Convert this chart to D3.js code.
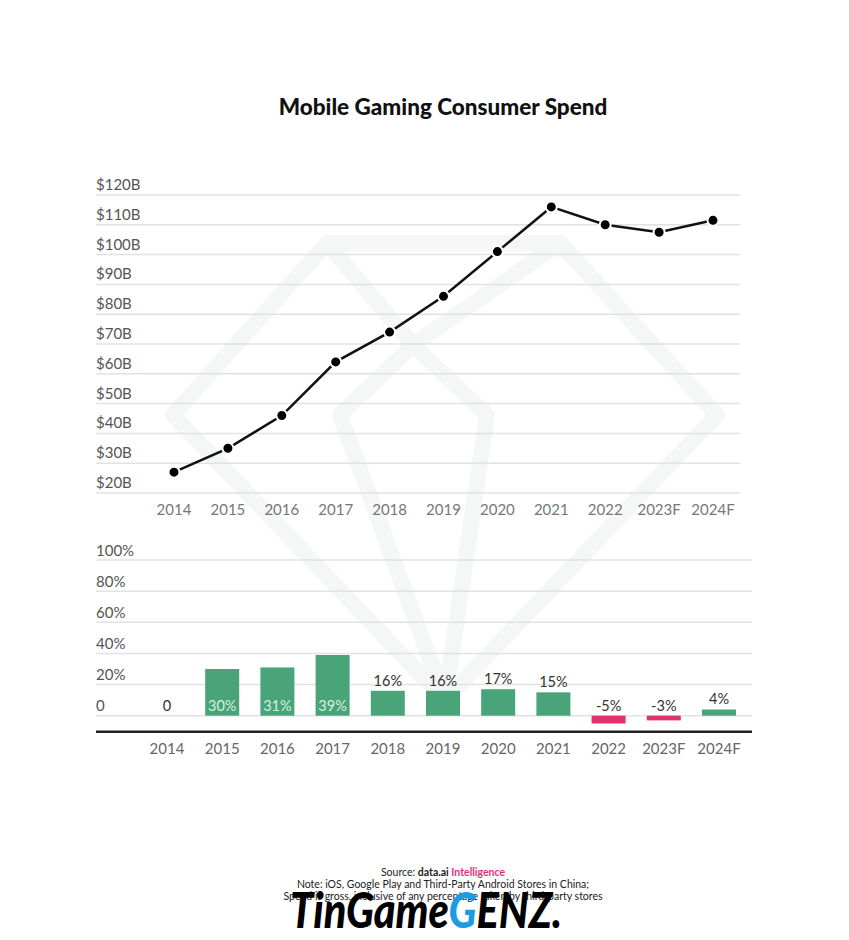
<!DOCTYPE html>
<html>
<head>
<meta charset="utf-8">
<script src="https://cdn.jsdelivr.net/npm/d3@7"></script>
<style>
  html, body { margin: 0; padding: 0; background: #ffffff; }
  svg { display: block; }
  text { font-family: "Lato", "Open Sans", sans-serif; }
</style>
</head>
<body>
<svg id="chart" width="849" height="940"></svg>
<script>
// ---- data ----
const years = ["2014", "2015", "2016", "2017", "2018", "2019", "2020", "2021", "2022", "2023F", "2024F"];
const spend = [27, 35, 46, 64, 74, 86, 101, 116, 110, 107.5, 111.5];          // $B
const growth = [0, 30, 31, 39, 16, 16, 17, 15, -5, -3, 4];                   // % YoY
const growthLabels = ["0", "30%", "31%", "39%", "16%", "16%", "17%", "15%", "-5%", "-3%", "4%"];
const spendTicks = [20, 30, 40, 50, 60, 70, 80, 90, 100, 110, 120];
const spendTickLabels = ["$20B", "$30B", "$40B", "$50B", "$60B", "$70B", "$80B", "$90B", "$100B", "$110B", "$120B"];
const growthTicks = [0, 20, 40, 60, 80, 100];
const growthTickLabels = ["0", "20%", "40%", "60%", "80%", "100%"];

const svg = d3.select("#chart");
svg.append("rect").attr("width", 849).attr("height", 940).attr("fill", "#ffffff");

// ---- faint diamond watermark ----
const wm = svg.append("g").attr("fill", "none").attr("stroke", "#f5f6f6")
  .attr("stroke-width", 16).attr("stroke-linejoin", "round");
wm.append("path").attr("d", "M327,243 L560,243 L717,415 L445,700 L173,415 Z");
wm.append("path").attr("d", "M327,243 L413,345 L487,415 L445,700 M560,243 L413,345 L340,415 L445,700");

// ---- title ----
svg.append("text").attr("x", 443).attr("y", 115).attr("text-anchor", "middle")
  .attr("font-size", 22.5).attr("font-weight", 900).attr("fill", "#111")
  .text("Mobile Gaming Consumer Spend");

// ---- top line chart ----
const gridL = 96, gridRTop = 740;
const yTop = d3.scaleLinear().domain([20, 120]).range([493, 195]);
const xTop = d3.scalePoint().domain(years).range([174, 713]);

const gTop = svg.append("g");
gTop.selectAll("line.grid").data(spendTicks).join("line")
  .attr("x1", gridL).attr("x2", gridRTop)
  .attr("y1", d => yTop(d)).attr("y2", d => yTop(d))
  .attr("stroke", "#e2e2e2").attr("stroke-width", 1.5);
gTop.selectAll("text.ytick").data(spendTicks).join("text")
  .attr("x", gridL).attr("y", d => yTop(d) - 5)
  .attr("font-size", 15).attr("fill", "#555")
  .text((d, i) => spendTickLabels[i]);
gTop.selectAll("text.xtick").data(years).join("text")
  .attr("x", d => xTop(d)).attr("y", 515).attr("text-anchor", "middle")
  .attr("font-size", 15).attr("fill", "#777")
  .text(d => d);

const line = d3.line().x((d, i) => xTop(years[i])).y(d => yTop(d));
gTop.append("path").datum(spend).attr("d", line)
  .attr("fill", "none").attr("stroke", "#111").attr("stroke-width", 2.5);
gTop.selectAll("circle").data(spend).join("circle")
  .attr("cx", (d, i) => xTop(years[i])).attr("cy", d => yTop(d)).attr("r", 5.5)
  .attr("fill", "#000").attr("stroke", "#fff").attr("stroke-width", 2);

// ---- bottom bar chart ----
const gridRBot = 752;
const yBot = d3.scaleLinear().domain([0, 100]).range([715.7, 560]);
const xBot = d3.scaleBand().domain(years).range([139.4, 746.6])
  .paddingInner(0.384).paddingOuter(0.192);

const gBot = svg.append("g");
gBot.selectAll("line.grid").data(growthTicks).join("line")
  .attr("x1", gridL).attr("x2", gridRBot)
  .attr("y1", d => yBot(d)).attr("y2", d => yBot(d))
  .attr("stroke", "#e2e2e2").attr("stroke-width", 1.5);
gBot.selectAll("text.ytick").data(growthTicks).join("text")
  .attr("x", gridL).attr("y", d => yBot(d) - 4.5)
  .attr("font-size", 15).attr("fill", "#555")
  .text((d, i) => growthTickLabels[i]);

gBot.selectAll("rect.bar").data(growth).join("rect")
  .attr("x", (d, i) => xBot(years[i]))
  .attr("width", xBot.bandwidth())
  .attr("y", d => d >= 0 ? yBot(d) : yBot(0))
  .attr("height", d => Math.abs(yBot(d) - yBot(0)))
  .attr("fill", d => d >= 0 ? "#4aa479" : "#e0326c");

gBot.selectAll("text.val").data(growth).join("text")
  .attr("x", (d, i) => xBot(years[i]) + xBot.bandwidth() / 2)
  .attr("y", d => d >= 25 ? yBot(0) - 5 : (d > 0 ? yBot(d) - 5 : yBot(0) - 4.5))
  .attr("text-anchor", "middle").attr("font-size", 14.5)
  .attr("fill", d => d >= 25 ? "#d6efe1" : "#333")
  .text((d, i) => growthLabels[i]);

gBot.append("line").attr("x1", gridL).attr("x2", gridRBot)
  .attr("y1", 731.7).attr("y2", 731.7).attr("stroke", "#222").attr("stroke-width", 2.5);

gBot.selectAll("text.xtick").data(years).join("text")
  .attr("x", d => xBot(d) + xBot.bandwidth() / 2).attr("y", 753.5)
  .attr("text-anchor", "middle").attr("font-size", 15).attr("fill", "#666")
  .text(d => d);

// ---- footer ----
const f1 = svg.append("text").attr("x", 443).attr("y", 876).attr("text-anchor", "middle")
  .attr("font-size", 10.5).attr("fill", "#222");
f1.append("tspan").text("Source: ");
f1.append("tspan").attr("font-weight", 700).text("data.ai ");
f1.append("tspan").attr("font-weight", 700).attr("fill", "#e0327a").text("Intelligence");
svg.append("text").attr("x", 443).attr("y", 888).attr("text-anchor", "middle")
  .attr("font-size", 10.5).attr("fill", "#222")
  .text("Note: iOS, Google Play and Third-Party Android Stores in China;");
svg.append("text").attr("x", 443).attr("y", 900).attr("text-anchor", "middle")
  .attr("font-size", 10.5).attr("fill", "#222")
  .text("Spend is gross, inclusive of any percentage taken by third-party stores");

// ---- overlay watermark text ----
const wt = svg.append("text").attr("x", 290).attr("y", 928)
  .attr("font-family", "Liberation Sans, Arial, sans-serif")
  .attr("font-size", 50).attr("font-weight", 900).attr("font-style", "italic")
  .attr("fill", "#000").attr("textLength", 272).attr("lengthAdjust", "spacingAndGlyphs");
wt.append("tspan").text("TinGame");
wt.append("tspan").attr("fill", "#1d9be3").text("G");
wt.append("tspan").text("ENZ.");
</script>
</body>
</html>
